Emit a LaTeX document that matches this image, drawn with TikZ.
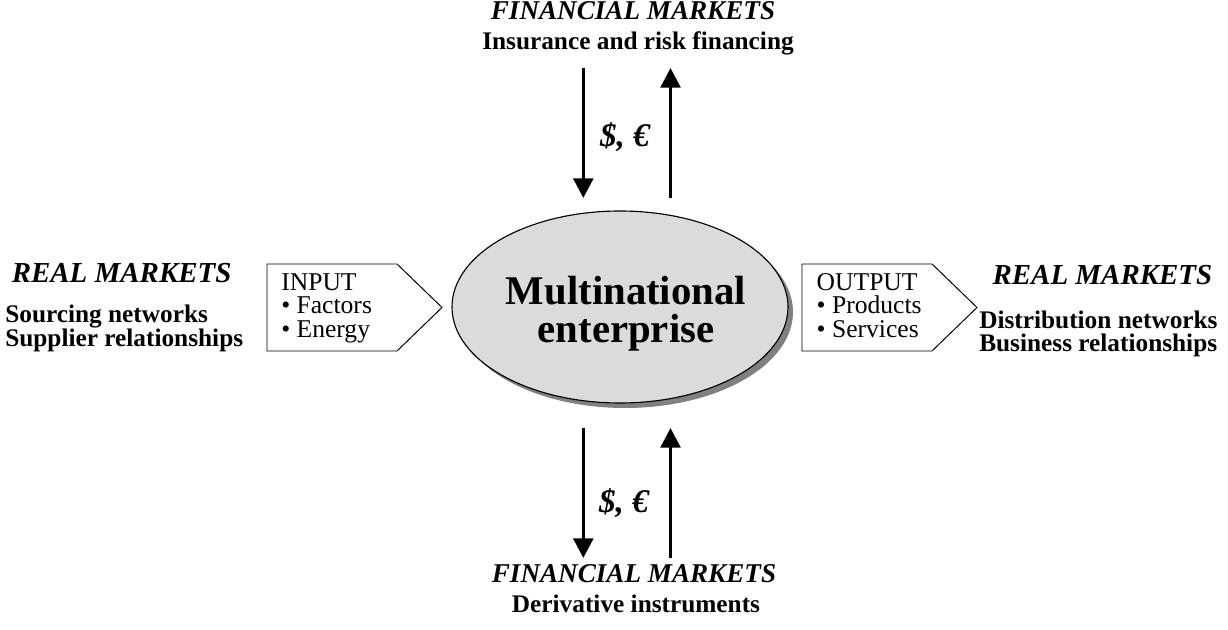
\documentclass[tikz,border=0pt]{standalone}
\usepackage{fontspec}
\setmainfont{Liberation Serif}
\usetikzlibrary{shapes.geometric,arrows.meta}
\tikzset{
  market/.style={font=\fontsize{19.3}{22}\selectfont\bfseries\itshape, inner sep=0pt, anchor=base},
  realmarket/.style={market, font=\fontsize{20.6}{24}\selectfont\bfseries\itshape},
  detail/.style={font=\fontsize{18}{17}\selectfont\bfseries, inner sep=0pt},
  iotext/.style={font=\fontsize{18.2}{16.9}\selectfont, align=left, inner sep=0pt, anchor=north west},
  iobox/.style={draw, line width=0.7pt, fill=white},
  flow/.style={-{Triangle[width=14pt,length=14pt]}, line width=2.5pt},
  money/.style={font=\fontsize{23.5}{26}\selectfont\bfseries\itshape, inner sep=0pt, anchor=base}
}

\begin{document}
\begin{tikzpicture}
    \useasboundingbox (0,0) rectangle (30.7,15.725);
    % enterprise
    \fill[black!50] (15.625,7.925) ellipse (4.2 and 2.4);
    \node[ellipse, draw, fill=black!14, line width=0.8pt, minimum width=8.4cm, minimum height=4.8cm, inner sep=0pt] (mne) at (15.5,8.05) {};
    \node[font=\fontsize{29}{27}\selectfont\bfseries, align=center] (mnename) at (15.65,7.875) {Multinational\\enterprise};

    % input / output boxes
    \foreach \x in {6.675,20.05}
        \draw[iobox] (\x,9.125) -- ++(3.25,0) -- ++(1.125,-1.0875) -- ++(-1.125,-1.0875) -- ++(-3.25,0) -- cycle;
    \node[iotext] (input) at (7.025,8.9) {INPUT\\\textbullet{} Factors\\\textbullet{} Energy};
    \node[iotext] (output) at (20.41,8.9) {OUTPUT\\\textbullet{} Products\\\textbullet{} Services};

    % real markets
    \node[realmarket] (realin) at (3.04,8.65) {REAL MARKETS};
    \node[detail, anchor=base west] (sourcing) at (0.125,7.65) {Sourcing networks};
    \node[detail, anchor=base west] (supplier) at (0.125,7.05) {Supplier relationships};
    \node[realmarket] (realout) at (27.56,8.6) {REAL MARKETS};
    \node[detail, anchor=base west] (distribution) at (24.475,7.5) {Distribution networks};
    \node[detail, anchor=base west] (business) at (24.475,6.925) {Business relationships};

    % financial markets
    \node[market] (fintop) at (15.825,15.225) {FINANCIAL MARKETS};
    \node[detail, anchor=base] (insurance) at (15.95,14.475) {Insurance and risk financing};
    \node[market] (finbot) at (15.85,1.15) {FINANCIAL MARKETS};
    \node[detail, anchor=base] (derivative) at (15.9,0.4) {Derivative instruments};

    % money flows
    \coordinate (paytop) at (14.583,14.025);
    \coordinate (payin) at (14.583,10.775);
    \coordinate (retin) at (16.763,10.775);
    \coordinate (rettop) at (16.763,14.025);
    \draw[flow] (paytop) -- (payin);
    \draw[flow] (retin) -- (rettop);
    \node[money] (cashtop) at (15.625,12.05) {\$, €};

    \coordinate (payout) at (14.583,5.025);
    \coordinate (paybot) at (14.583,1.775);
    \coordinate (retbot) at (16.763,1.775);
    \coordinate (retout) at (16.763,5.025);
    \draw[flow] (payout) -- (paybot);
    \draw[flow] (retbot) -- (retout);
    \node[money] (cashbot) at (15.6,2.9) {\$, €};
\end{tikzpicture}
\end{document}
